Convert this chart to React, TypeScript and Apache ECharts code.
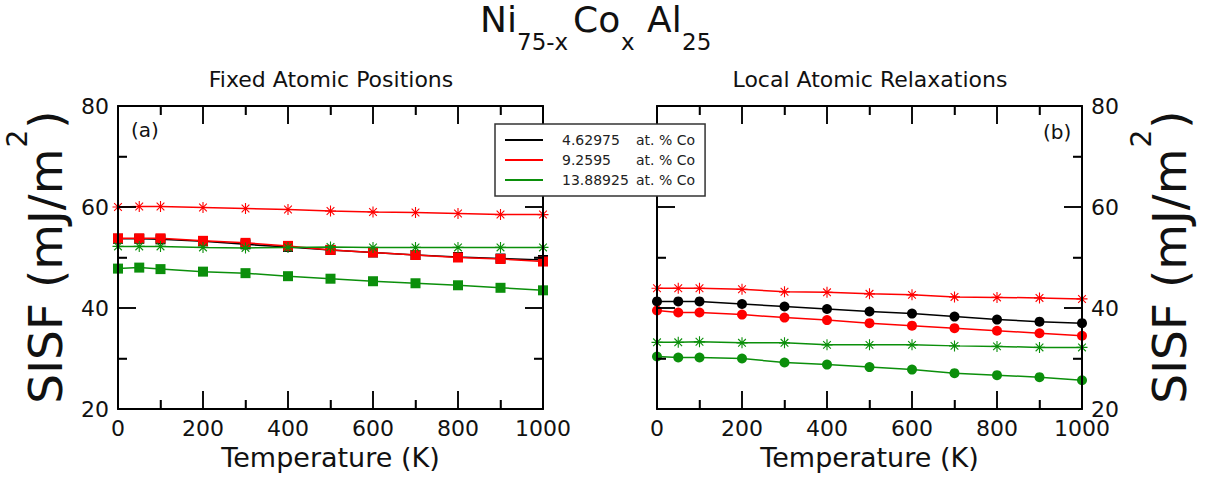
import React, { useEffect, useRef } from 'react';
import * as echarts from 'echarts';

// ---------- data ----------
const temperatures = [0, 50, 100, 200, 300, 400, 500, 600, 700, 800, 900, 1000];
const concentrations = ['4.62975', '9.2595', '13.88925'];
const xTicks = { min: 0, max: 1000, interval: 200 };
const yTicks = { min: 20, max: 80, interval: 20 };
const xMajorTicks = [0, 200, 400, 600, 800, 1000];
const xMinorTicks = [100, 300, 500, 700, 900];
const yMajorTicks = [20, 40, 60, 80];
const yMinorTicks = [30, 50, 70];

// (a) Fixed atomic positions
const fixedBlackSquares = [53.7, 53.7, 53.6, 53.2, 52.6, 52.1, 51.5, 51.0, 50.5, 50.1, 49.8, 49.5];
const fixedRedSquares = [53.8, 53.8, 53.8, 53.3, 52.9, 52.3, 51.5, 51.0, 50.5, 50.0, 49.7, 49.2];
const fixedRedStars = [60.0, 60.1, 60.1, 59.9, 59.7, 59.5, 59.2, 59.0, 58.9, 58.7, 58.5, 58.5];
const fixedGreenStars = [52.2, 52.2, 52.2, 52.0, 51.9, 52.0, 52.1, 52.0, 52.0, 52.0, 52.0, 52.0];
const fixedGreenSquares = [47.8, 48.0, 47.7, 47.2, 46.9, 46.3, 45.8, 45.3, 44.9, 44.5, 44.0, 43.5];

// (b) Local atomic relaxations
const relaxRedStars = [43.9, 43.9, 43.9, 43.7, 43.2, 43.1, 42.8, 42.6, 42.2, 42.1, 42.0, 41.8];
const relaxBlackCircles = [41.3, 41.3, 41.3, 40.8, 40.3, 39.8, 39.3, 38.9, 38.3, 37.7, 37.3, 37.0];
const relaxRedCircles = [39.5, 39.1, 39.1, 38.7, 38.1, 37.6, 37.0, 36.5, 36.0, 35.5, 35.0, 34.5];
const relaxGreenStars = [33.2, 33.2, 33.3, 33.1, 33.1, 32.7, 32.7, 32.7, 32.5, 32.4, 32.2, 32.2];
const relaxGreenCircles = [30.4, 30.2, 30.2, 30.0, 29.2, 28.8, 28.3, 27.8, 27.1, 26.7, 26.3, 25.7];

// ---------- layout / styling ----------
const FONT = 'DejaVu Sans';
const BLACK = '#000000';
const RED = '#ff0000';
const GREEN = '#0b8f0b';
const MAJOR_LEN = 18;
const MINOR_LEN = 9;
const STAR =
  'path://M-1,-10 h2 v20 h-2 z M-10,-1 h20 v2 h-20 z ' +
  'M-6.3,-7.7 L7.7,6.3 L6.3,7.7 L-7.7,-6.3 z ' +
  'M-7.7,6.3 L6.3,-7.7 L7.7,-6.3 L-6.3,7.7 z';

function measure(text: string, size: number): number {
  const c = document.createElement('canvas').getContext('2d');
  if (!c) return text.length * size * 0.6;
  c.font = `${size}px "${FONT}"`;
  return c.measureText(text).width;
}

function mkSeries(name: string, color: string, symbol: string, values: number[], panel: number, z: number) {
  const isStar = symbol === STAR;
  return {
    type: 'line',
    name,
    xAxisIndex: panel * 2,
    yAxisIndex: panel * 2,
    data: temperatures.map((t, i) => [t, values[i]]),
    symbol,
    symbolSize: isStar ? 11 : 10,
    showAllSymbol: true,
    lineStyle: { color, width: 1.5 },
    itemStyle: { color, opacity: 1 },
    z,
    silent: true,
  };
}

const axisLineDef = { show: true, onZero: false, lineStyle: { color: '#000', width: 2 } };
const tickDef = { show: true, inside: true, length: MAJOR_LEN, lineStyle: { color: '#000', width: 1.5 } };
const minorDef = { show: true, splitNumber: 2, length: MINOR_LEN, lineStyle: { color: '#000', width: 1.5 } };

function xAxisDef(gridIndex: number, position: string, labelled: boolean) {
  return {
    type: 'value',
    gridIndex,
    position,
    z: 10,
    min: xTicks.min,
    max: xTicks.max,
    interval: xTicks.interval,
    axisLine: axisLineDef,
    axisTick: tickDef,
    minorTick: minorDef,
    splitLine: { show: false },
    minorSplitLine: { show: false },
    axisLabel: {
      show: labelled,
      fontFamily: FONT,
      fontSize: 22,
      color: '#111',
      margin: 8,
      formatter: (v: number) => String(v),
    },
    name: labelled ? 'Temperature (K)' : '',
    nameLocation: 'middle',
    nameGap: 34,
    nameTextStyle: { fontFamily: FONT, fontSize: 27, color: '#111' },
  };
}

function yAxisDef(gridIndex: number, position: string, labelled: boolean) {
  return {
    type: 'value',
    gridIndex,
    position,
    z: 10,
    min: yTicks.min,
    max: yTicks.max,
    interval: yTicks.interval,
    axisLine: axisLineDef,
    axisTick: tickDef,
    minorTick: minorDef,
    splitLine: { show: false },
    minorSplitLine: { show: false },
    axisLabel: { show: labelled, fontFamily: FONT, fontSize: 22, color: '#111', margin: 9 },
  };
}

function yNameGroup(cx: number, cy: number) {
  const mainSize = 47;
  const supSize = 28;
  const main = 'SISF (mJ/m';
  const wMain = measure(main, mainSize);
  const wSup = measure('2', supSize);
  const wPar = measure(')', mainSize);
  const total = wMain + wSup + 2 + wPar;
  const x0 = -total / 2;
  const common = { fontFamily: FONT, fill: '#111', verticalAlign: 'middle', align: 'left' };
  return {
    type: 'group',
    x: cx,
    y: cy,
    rotation: Math.PI / 2,
    children: [
      { type: 'text', x: x0, y: 0, style: { ...common, text: main, fontSize: mainSize } },
      { type: 'text', x: x0 + wMain + 1, y: -28, style: { ...common, text: '2', fontSize: supSize } },
      { type: 'text', x: x0 + wMain + wSup + 2, y: 0, style: { ...common, text: ')', fontSize: mainSize } },
    ],
  };
}

function txt(text: string, x: number, y: number, size: number, align = 'left') {
  return {
    type: 'text',
    x,
    y,
    style: { text, fontFamily: FONT, fontSize: size, fill: '#111', align, verticalAlign: 'middle' },
  };
}

export default function App() {
  const ref = useRef<HTMLDivElement>(null);

  useEffect(() => {
    if (!ref.current) return;
    const chart = echarts.init(ref.current, null, { renderer: 'svg' });

    const series = [
      // panel (a)
      mkSeries(concentrations[0], BLACK, 'rect', fixedBlackSquares, 0, 2),
      mkSeries(concentrations[1], RED, 'rect', fixedRedSquares, 0, 3),
      mkSeries(concentrations[2], GREEN, STAR, fixedGreenStars, 0, 4),
      mkSeries(concentrations[2], GREEN, 'rect', fixedGreenSquares, 0, 4),
      mkSeries(concentrations[1], RED, STAR, fixedRedStars, 0, 4),
      // panel (b)
      mkSeries(concentrations[0], BLACK, 'circle', relaxBlackCircles, 1, 2),
      mkSeries(concentrations[1], RED, 'circle', relaxRedCircles, 1, 3),
      mkSeries(concentrations[1], RED, STAR, relaxRedStars, 1, 3),
      mkSeries(concentrations[2], GREEN, STAR, relaxGreenStars, 1, 4),
      mkSeries(concentrations[2], GREEN, 'circle', relaxGreenCircles, 1, 4),
    ];

    const graphic: any[] = [
      // title Ni(75-x) Co(x) Al(25)
      txt('Ni', 480, 19.5, 36),
      txt('75-x', 517, 42, 23),
      txt('Co', 573, 19.5, 36),
      txt('x', 621, 42, 23),
      txt('Al', 647, 19.5, 36),
      txt('25', 682, 42, 23),
      // panel subtitles
      txt('Fixed Atomic Positions', 331, 79, 22, 'center'),
      txt('Local Atomic Relaxations', 870, 79, 22, 'center'),
      // panel labels
      txt('(a)', 131, 130, 20),
      txt('(b)', 1043, 132, 20),
      // y axis names
      yNameGroup(45, 257),
      yNameGroup(1169, 257),
    ];

    const option = {
      animation: false,
      backgroundColor: '#ffffff',
      grid: [
        { left: 118, top: 106, width: 425, height: 303 },
        { left: 657, top: 106, width: 425, height: 303 },
      ],
      xAxis: [
        xAxisDef(0, 'bottom', true),
        xAxisDef(0, 'top', false),
        xAxisDef(1, 'bottom', true),
        xAxisDef(1, 'top', false),
      ],
      yAxis: [
        yAxisDef(0, 'left', true),
        yAxisDef(0, 'right', false),
        yAxisDef(1, 'left', false),
        yAxisDef(1, 'right', true),
      ],
      legend: {
        show: true,
        data: concentrations,
        orient: 'vertical',
        left: 495,
        top: 124,
        z: 20,
        selectedMode: false,
        backgroundColor: '#ffffff',
        borderColor: '#333',
        borderWidth: 1.5,
        borderRadius: 0,
        padding: [9, 10, 9, 10],
        itemGap: 6,
        icon: 'rect',
        itemWidth: 38,
        itemHeight: 2,
        formatter: (name: string) => `{g| }{v|${name}}{u|at. % Co}`,
        textStyle: {
          fontFamily: FONT,
          fontSize: 14,
          color: '#222',
          rich: {
            g: { width: 14, fontSize: 14, lineHeight: 16 },
            v: { width: 74, fontSize: 14, fontFamily: FONT, color: '#222', lineHeight: 16 },
            u: { fontSize: 14, fontFamily: FONT, color: '#222', lineHeight: 16 },
          },
        },
      },
      graphic,
      series,
    };

    chart.setOption(option as any);

    // inward ticks on every side of both panels, placed through each grid's own scales
    const extra: any[] = [];
    const style = { stroke: '#000000', lineWidth: 1.5 };
    [0, 1].forEach((gridIndex) => {
      const finder = { gridIndex };
      const add = (v: number, len: number, isY: boolean) => {
        if (!isY) {
          const b = chart.convertToPixel(finder as any, [v, yTicks.min]) as number[];
          const t = chart.convertToPixel(finder as any, [v, yTicks.max]) as number[];
          extra.push({ type: 'line', z: 15, silent: true, shape: { x1: b[0], y1: b[1], x2: b[0], y2: b[1] - len }, style });
          extra.push({ type: 'line', z: 15, silent: true, shape: { x1: t[0], y1: t[1], x2: t[0], y2: t[1] + len }, style });
        } else {
          const l = chart.convertToPixel(finder as any, [xTicks.min, v]) as number[];
          const r = chart.convertToPixel(finder as any, [xTicks.max, v]) as number[];
          extra.push({ type: 'line', z: 15, silent: true, shape: { x1: l[0], y1: l[1], x2: l[0] + len, y2: l[1] }, style });
          extra.push({ type: 'line', z: 15, silent: true, shape: { x1: r[0], y1: r[1], x2: r[0] - len, y2: r[1] }, style });
        }
      };
      xMajorTicks.forEach((v) => add(v, MAJOR_LEN, false));
      xMinorTicks.forEach((v) => add(v, MINOR_LEN, false));
      yMajorTicks.forEach((v) => add(v, MAJOR_LEN, true));
      yMinorTicks.forEach((v) => add(v, MINOR_LEN, true));
    });
    chart.setOption({ graphic: [...graphic, ...extra] } as any);

    return () => chart.dispose();
  }, []);

  return (
    <div
      ref={ref}
      style={{ position: 'absolute', left: 0, top: 0, width: 1207, height: 481 }}
    />
  );
}
